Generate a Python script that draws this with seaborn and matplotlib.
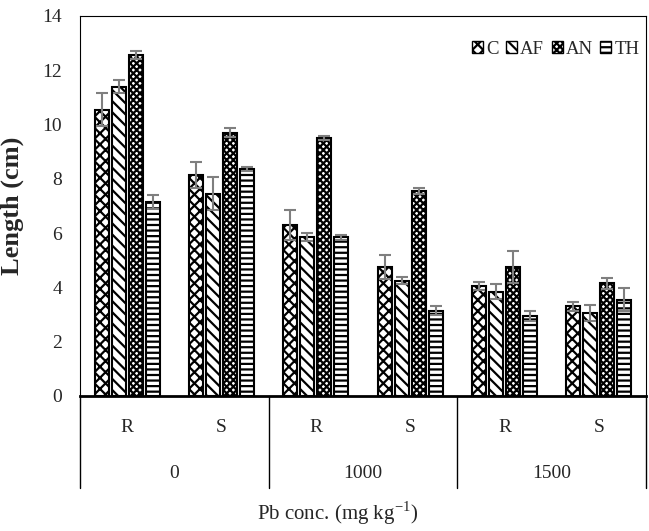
import matplotlib
matplotlib.use("Agg")
import matplotlib.pyplot as plt
import seaborn as sns
import pandas as pd
import numpy as np
from matplotlib.patches import Patch

categories = ["R", "S", "R", "S", "R", "S"]
groups = ["0", "1000", "1500"]
series = ["C", "AF", "AN", "TH"]
C = [10.55, 8.15, 6.3, 4.75, 4.05, 3.3]
C_err = [0.6, 0.47, 0.56, 0.44, 0.14, 0.15]
AF = [11.4, 7.45, 5.85, 4.25, 3.85, 3.05]
AF_err = [0.25, 0.6, 0.15, 0.13, 0.27, 0.3]
AN = [12.55, 9.7, 9.5, 7.55, 4.76, 4.15]
AN_err = [0.15, 0.17, 0.08, 0.12, 0.59, 0.2]
TH = [7.15, 8.35, 5.85, 3.15, 2.95, 3.55]
TH_err = [0.25, 0.07, 0.1, 0.15, 0.17, 0.42]

values = {"C": C, "AF": AF, "AN": AN, "TH": TH}
errors = {"C": C_err, "AF": AF_err, "AN": AN_err, "TH": TH_err}
hatches = {"C": "xxx", "AF": "\\\\\\", "AN": "xxxxx", "TH": "---"}

rows = []
for s in series:
    for i, (cat, v) in enumerate(zip(categories, values[s])):
        rows.append({"pos": i, "series": s, "value": v})
df = pd.DataFrame(rows)

sns.set_style("white")
plt.rcParams["font.family"] = ["Liberation Serif", "DejaVu Serif"]
plt.rcParams["hatch.linewidth"] = 1.6
plt.rcParams["mathtext.fontset"] = "custom"
plt.rcParams["mathtext.rm"] = "Liberation Serif"

fig = plt.figure(figsize=(6.49, 5.31), dpi=100)
ax = fig.add_axes([80/649, 1-396/531, 566/649, 380/531])

sns.barplot(data=df, x="pos", y="value", hue="series", hue_order=series,
            order=list(range(len(categories))), palette=["white"]*4,
            width=0.72, gap=0.18, errorbar=None, edgecolor="black",
            linewidth=1.5, ax=ax, legend=False)

for cont, s in zip(ax.containers, series):
    xs = []
    for p in cont.patches:
        p.set_hatch(hatches[s])
        p.set_edgecolor("black")
        xs.append(p.get_x() + p.get_width()/2)
    ax.errorbar(xs, values[s], yerr=errors[s], fmt="none", ecolor="#7f7f7f",
                elinewidth=1.5, capsize=4, capthick=1.5, zorder=5)

ax.set_xlim(-0.5, len(categories)-0.5)
ax.set_ylim(0, 14)
ax.set_yticks(np.arange(0, 15, 2))
ax.tick_params(axis="y", labelsize=14, length=0, pad=13)
ax.set_xticks([])
ax.set_xlabel("")
ax.set_ylabel("Length (cm)", fontsize=19, fontweight="bold")
ax.yaxis.set_label_coords(-(80-24)/566, 0.5)

for sp in ax.spines.values():
    sp.set_color("black")
    sp.set_linewidth(0.8)
ax.spines["bottom"].set_linewidth(2)

tr = ax.get_xaxis_transform()
for i, cat in enumerate(categories):
    ax.text(i, -0.082, cat, transform=tr, ha="center", va="center", fontsize=14)
for g, name in enumerate(groups):
    ax.text(2*g + 0.5, -0.203, name, transform=tr, ha="center", va="center", fontsize=14)
for b in [-0.5, 1.5, 3.5, 5.5]:
    ax.plot([b, b], [0, -0.242], transform=tr, color="black", lw=1, clip_on=False)

fig.text(338/649, 1-513/531, "Pb conc. (mg kg$^{-1}$)", ha="center",
         va="center", fontsize=15)

handles = [Patch(facecolor="white", edgecolor="black", hatch=hatches[s], label=s) for s in series]
ax.legend(handles=handles, loc="upper right", ncol=4, frameon=False, fontsize=13.5,
          handlelength=0.6, handleheight=0.6, handletextpad=0.15, columnspacing=0.4,
          bbox_to_anchor=(1.008, 0.965), borderaxespad=0.2)

fig.savefig("out.png", dpi=100)
